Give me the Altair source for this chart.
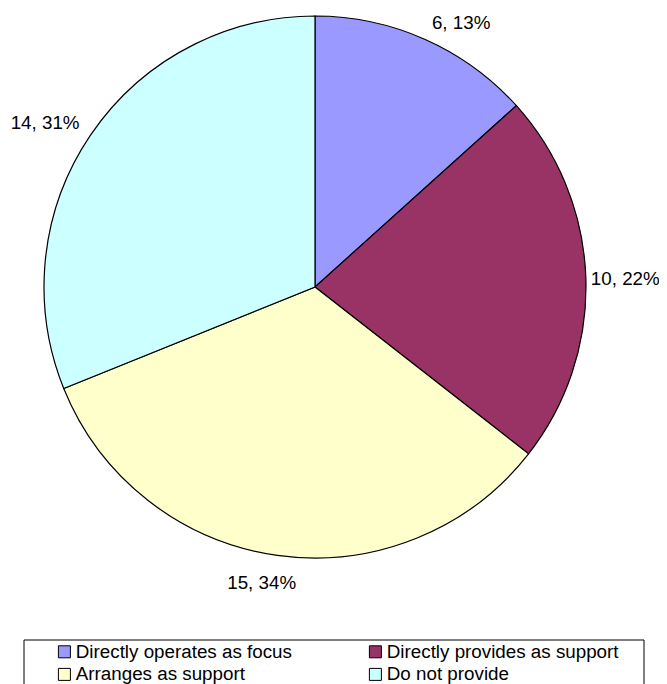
import altair as alt
import pandas as pd

categories = ["Directly operates as focus", "Directly provides as support",
              "Arranges as support", "Do not provide"]
values = [6, 10, 15, 14]
percents = [13, 22, 34, 31]
colors = ["#9999FF", "#993366", "#FFFFCC", "#CCFFFF"]

# legend is laid out column by column, so list entries so rows read like the reference
legend_order = [categories[0], categories[2], categories[1], categories[3]]
legend_colors = [colors[0], colors[2], colors[1], colors[3]]

df = pd.DataFrame({
    "category": categories,
    "value": values,
    "percent": percents,
    "order": list(range(len(categories))),
})
df["label"] = [f"{v}, {p}%" for v, p in zip(values, percents)]

FONT = "Liberation Sans"
FS = 18.8

color_scale = alt.Scale(domain=legend_order, range=legend_colors)

pie = alt.Chart(df).mark_arc(stroke="black", strokeWidth=1.2, outerRadius=271).encode(
    theta=alt.Theta("value:Q", stack=True),
    color=alt.Color(
        "category:N", scale=color_scale, sort=legend_order,
        legend=alt.Legend(
            title=None, orient="none", legendX=47, legendY=634, columns=2,
            symbolType="square", symbolSize=144, symbolStrokeColor="black",
            symbolStrokeWidth=1, symbolOpacity=1,
            labelFont=FONT, labelFontSize=FS, labelColor="black", labelLimit=0,
            labelOffset=2, columnPadding=74, rowPadding=3, padding=0,
        ),
    ),
    order=alt.Order("order:Q"),
)


def label_layer(names, align, radius, dx=0, dy=0):
    cond = "indexof(" + str(names) + ", datum.category) >= 0 ? datum.label : ''"
    return alt.Chart(df).transform_calculate(txt=cond).mark_text(
        align=align, baseline="middle", radius=radius, dx=dx, dy=dy,
        font=FONT, fontSize=FS, color="black",
    ).encode(
        theta=alt.Theta("value:Q", stack=True),
        detail="category:N",
        order=alt.Order("order:Q"),
        text="txt:N",
    )


labels = [
    label_layer([categories[0]], "left", 285, dx=1, dy=-4),
    label_layer([categories[1]], "left", 284, dx=-8, dy=2),
    label_layer([categories[2]], "center", 297, dx=-12, dy=2),
    label_layer([categories[3]], "right", 284, dy=-5),
]

frame = alt.Chart(alt.Data(values=[{"k": 1}])).mark_rect(
    fill="transparent", stroke="black", strokeWidth=1
).encode(
    x=alt.value(16), x2=alt.value(636), y=alt.value(632), y2=alt.value(720)
)

chart = alt.layer(pie, *labels, frame).properties(
    width=614, height=558,
    autosize=alt.AutoSizeParams(type="none"),
    padding={"left": 0, "top": 0, "right": 37, "bottom": 122},
).configure(
    font=FONT,
    view=alt.ViewConfig(stroke="transparent", strokeWidth=0),
)

chart.save("out.html", embed_options={"renderer": "svg", "actions": False})
